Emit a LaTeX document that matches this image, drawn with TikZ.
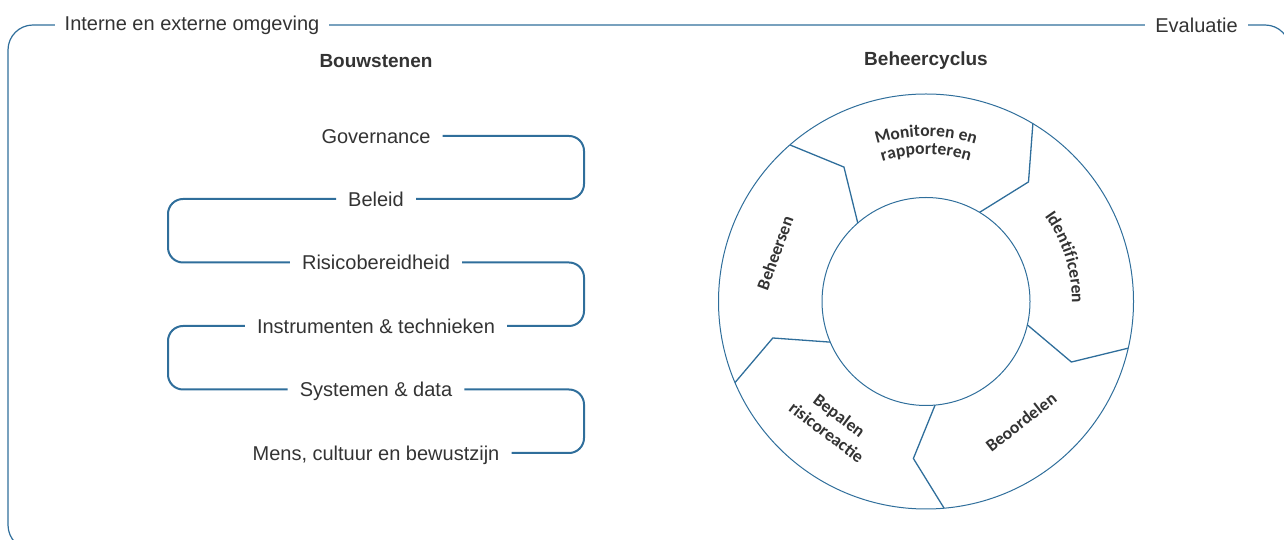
\documentclass[tikz,border=0pt]{standalone}
\usepackage{fontspec}
\setmainfont{Liberation Sans}
\newfontfamily\cyclefont{Carlito}
\usetikzlibrary{calc,decorations.text}

\definecolor{frameblue}{HTML}{2F6E9B}
\definecolor{txtgray}{HTML}{333333}

\begin{document}
\begin{tikzpicture}[x=1pt,y=1pt,
  frameline/.style={draw=frameblue, line width=1.2pt},
  link/.style={draw=frameblue, line width=2pt, rounded corners=15pt},
  ring/.style={draw=frameblue, line width=1pt},
  divider/.style={draw=frameblue, line width=1.3pt, line join=miter},
  edgelabel/.style={fill=white, font=\fontsize{20}{24}\selectfont, text=txtgray, inner xsep=10pt, inner ysep=2pt},
  heading/.style={font=\fontsize{19}{23}\selectfont\bfseries, text=txtgray},
  block/.style={font=\fontsize{20}{24}\selectfont, text=txtgray, inner xsep=12pt, inner ysep=0pt, text height=14.3pt, text depth=0pt},
  phase/.style={font=\cyclefont\bfseries\fontsize{17.5}{21}\selectfont, text=txtgray, align=center, inner sep=0pt},
  arctext/.style={decorate, decoration={text along path, text align=center, text color=txtgray,
    text={|\cyclefont\bfseries\fontsize{17.5}{21}\selectfont|#1}}}
]
\useasboundingbox (0,0) rectangle (1284,540);
\clip (0,0) rectangle (1284,540);

% surrounding frame with its two captions
\draw[frameline, rounded corners=25pt] (8,-10) rectangle (1290,515);
\node[edgelabel] (env) at (192,515) {Interne en externe omgeving};
\node[edgelabel] (eval) at (1196.5,515) {Evaluatie};

% headings
\node[heading] (bhead) at (376,479) {Bouwstenen};
\node[heading] (chead) at (926,479) {Beheercyclus};

% building blocks
\node[block] (gov)    at (376,404)   {Governance};
\node[block] (beleid) at (376,341)   {Beleid};
\node[block] (risico) at (376,277.5) {Risicobereidheid};
\node[block] (instr)  at (376,214)   {Instrumenten \& technieken};
\node[block] (sys)    at (376,150.5) {Systemen \& data};
\node[block] (mens)   at (376,87)    {Mens, cultuur en bewustzijn};

\coordinate (xr) at (584,0);
\coordinate (xl) at (168,0);

\draw[link] (gov.east)    -- (gov.east -| xr)    -- (beleid.east -| xr) -- (beleid.east);
\draw[link] (beleid.west) -- (beleid.west -| xl) -- (risico.west -| xl) -- (risico.west);
\draw[link] (risico.east) -- (risico.east -| xr) -- (instr.east -| xr)  -- (instr.east);
\draw[link] (instr.west)  -- (instr.west -| xl)  -- (sys.west -| xl)    -- (sys.west);
\draw[link] (sys.east)    -- (sys.east -| xr)    -- (mens.east -| xr)   -- (mens.east);

% management cycle
\coordinate (C) at (926,238.5);
\draw[ring] (C) circle[radius=207.5];
\draw[ring] (C) circle[radius=104];
\foreach \a in {131,59,-13,-85,-157}
  \draw[divider] ($(C)+(\a:207.5)$) -- ($(C)+({\a-9.6}:157.5)$) -- ($(C)+(\a:104)$);

\path[arctext={Monitoren en}] ($(C)+(131:165)$) arc[start angle=131, end angle=49, radius=165];
\path[arctext={rapporteren}]  ($(C)+(131:147)$) arc[start angle=131, end angle=49, radius=147];
\path[arctext={Identificeren}] ($(C)+(40:146)$) arc[start angle=40, end angle=-5, radius=146];

\node[phase, rotate=70]  (beheersen)  at (775,287) {Beheersen};
\node[phase, rotate=38]  (beoordelen) at (1021,118) {Beoordelen};
\node[phase, rotate=-37] (bepalen)    at (833,116) {Bepalen\\risicoreactie};
\end{tikzpicture}
\end{document}
